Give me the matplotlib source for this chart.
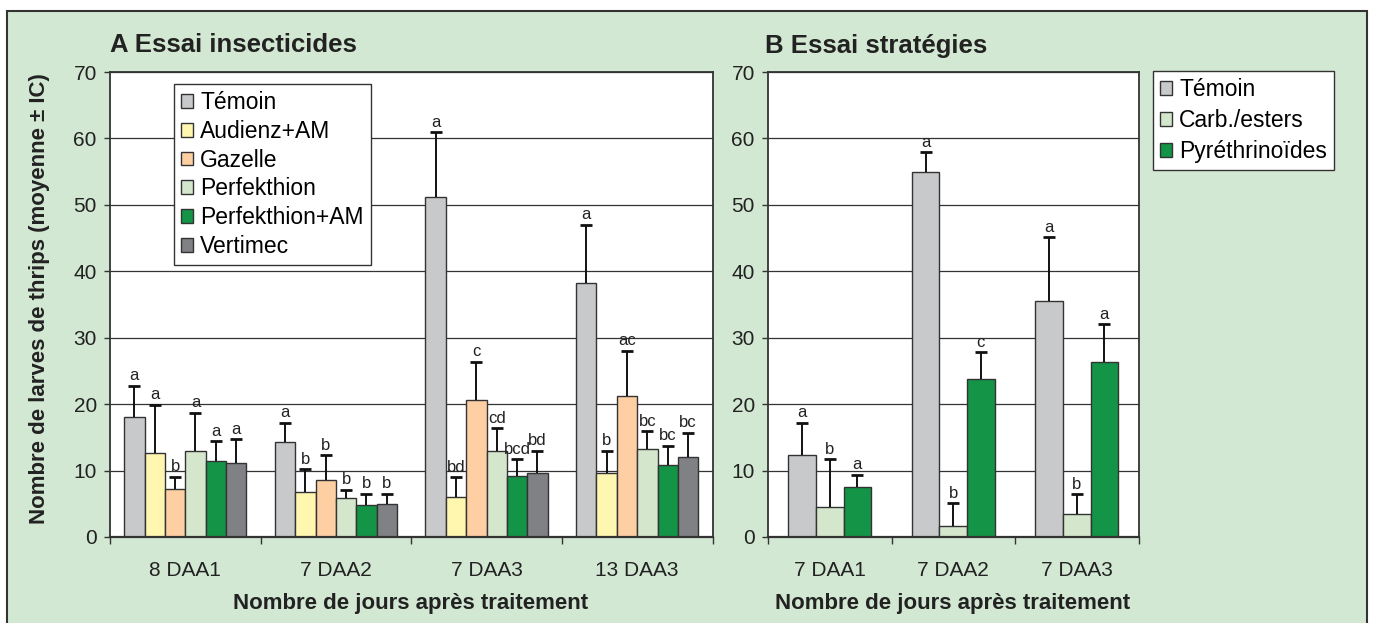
import numpy as np
import matplotlib.pyplot as plt
from matplotlib.patches import Patch, Rectangle

plt.rcParams['font.family'] = ['Liberation Sans', 'DejaVu Sans']

# A - essai insecticides
dates_a = ['8 DAA1', '7 DAA2', '7 DAA3', '13 DAA3']
produits_a = ['Témoin', 'Audienz+AM', 'Gazelle', 'Perfekthion', 'Perfekthion+AM', 'Vertimec']
moy_a = [[18.1, 14.3, 51.2, 38.3],
         [12.6, 6.7, 6.0, 9.7],
         [7.2, 8.6, 20.6, 21.3],
         [13.0, 5.9, 13.0, 13.2],
         [11.5, 4.8, 9.2, 10.9],
         [11.1, 5.0, 9.6, 12.1]]
# borne haute de l'IC
haut_a = [[22.8, 17.2, 60.9, 47.0],
          [19.9, 10.2, 9.0, 13.0],
          [9.1, 12.3, 26.4, 28.0],
          [18.7, 7.1, 16.4, 15.9],
          [14.4, 6.5, 11.7, 13.7],
          [14.7, 6.5, 13.0, 15.7]]
lettres_a = [['a', 'a', 'a', 'a'],
             ['a', 'b', 'bd', 'b'],
             ['b', 'b', 'c', 'ac'],
             ['a', 'b', 'cd', 'bc'],
             ['a', 'b', 'bcd', 'bc'],
             ['a', 'b', 'bd', 'bc']]
couleurs_a = ['#c8c9cb', '#fff6b0', '#fdcfa3', '#d4e7cd', '#139447', '#808185']

# B - essai strategies
dates_b = ['7 DAA1', '7 DAA2', '7 DAA3']
produits_b = ['Témoin', 'Carb./esters', 'Pyréthrinoïdes']
moy_b = [[12.3, 54.9, 35.6],
         [4.5, 1.7, 3.4],
         [7.5, 23.8, 26.3]]
haut_b = [[17.2, 57.9, 45.1],
          [11.7, 5.1, 6.4],
          [9.4, 27.8, 32.0]]
lettres_b = [['a', 'a', 'a'],
             ['b', 'b', 'b'],
             ['a', 'c', 'a']]
couleurs_b = ['#c8c9cb', '#d4e7cd', '#139447']

W, H = 1373, 623
fig = plt.figure(figsize=(W / 100, H / 100), dpi=100)
fig.patch.set_facecolor('white')
fig.patches.append(Rectangle((7 / W, -0.02), 1360 / W, 1 - 11 / H + 0.02,
                             transform=fig.transFigure, facecolor='#d3e8d3',
                             edgecolor='#333333', lw=1.5, zorder=-10))

dark = '#333333'


def panel(ax, dates, produits, moy, haut, lettres, couleurs, largeur):
    n = len(produits)
    x = np.arange(len(dates))
    for i in range(n):
        pos = x + (i - (n - 1) / 2) * largeur
        m = np.array(moy[i])
        ci = np.array(haut[i]) - m
        ax.bar(pos, m, largeur, color=couleurs[i], edgecolor=dark, lw=1, zorder=2)
        eb = ax.errorbar(pos, m, yerr=[np.zeros_like(ci), ci], fmt='none',
                         ecolor='#111111', elinewidth=1.4, capsize=4.5, capthick=2, zorder=3)
        eb[1][0].set_visible(False)
        for xx, hh, lt in zip(pos, haut[i], lettres[i]):
            ax.annotate(lt, (xx, hh), xytext=(0, 4), textcoords='offset points',
                        ha='center', va='baseline', fontsize=12, color='#222222')
    ax.set_xlim(-0.5, len(dates) - 0.5)
    ax.set_ylim(0, 70)
    ax.set_yticks(range(0, 71, 10))
    ax.set_xticks(x)
    ax.set_xticklabels(dates)
    ax.set_xticks(np.arange(len(dates) + 1) - 0.5, minor=True)
    ax.tick_params(axis='x', which='major', length=0, pad=17, labelsize=15, colors='#222222')
    ax.tick_params(axis='x', which='minor', length=5, width=1, color=dark)
    ax.tick_params(axis='y', length=4.5, width=1, pad=5, labelsize=15, color=dark, labelcolor='#222222')
    ax.yaxis.grid(True, color=dark, lw=0.9)
    ax.set_axisbelow(True)
    for s in ax.spines.values():
        s.set_color(dark)
        s.set_linewidth(1.3)
    ax.spines['bottom'].set_linewidth(1.6)
    ax.set_facecolor('white')


ax_a = fig.add_axes([110 / W, 86 / H, 602.5 / W, 465 / H])
panel(ax_a, dates_a, produits_a, moy_a, haut_a, lettres_a, couleurs_a, 1 / 7.4)
ax_b = fig.add_axes([768 / W, 86 / H, 370.5 / W, 465 / H])
panel(ax_b, dates_b, produits_b, moy_b, haut_b, lettres_b, couleurs_b, 0.223)

leg_kw = dict(loc='upper left', borderaxespad=0, fontsize=16.5, fancybox=False,
              edgecolor=dark, handlelength=0.55, handleheight=0.55, handletextpad=0.3,
              borderpad=0.3, framealpha=1)
h_a = [Patch(facecolor=c, edgecolor=dark, lw=1) for c in couleurs_a]
lg = ax_a.legend(h_a, produits_a, bbox_to_anchor=(0.106, 0.9735), labelspacing=0.25, **leg_kw)
lg.get_frame().set_linewidth(1)
h_b = [Patch(facecolor=c, edgecolor=dark, lw=1) for c in couleurs_b]
lg = ax_b.legend(h_b, produits_b, bbox_to_anchor=(1.039, 1.002), labelspacing=0.35, **leg_kw)
lg.get_frame().set_linewidth(1)

fig.text(110 / W, 1 - 52.5 / H, 'A Essai insecticides', fontsize=18.5, fontweight='bold',
         va='baseline', ha='left', color='#222222')
fig.text(765 / W, 1 - 52.5 / H, 'B Essai stratégies', fontsize=18.5, fontweight='bold',
         va='baseline', ha='left', color='#222222')
fig.text(40 / W, 1 - 298.5 / H, 'Nombre de larves de thrips (moyenne ± IC)', fontsize=16,
         fontweight='bold', rotation=90, ha='center', va='center', color='#222222')
fig.text(411 / W, 1 - 604 / H, 'Nombre de jours après traitement', fontsize=16,
         fontweight='bold', ha='center', va='center', color='#222222')
fig.text(953 / W, 1 - 604 / H, 'Nombre de jours après traitement', fontsize=16,
         fontweight='bold', ha='center', va='center', color='#222222')

fig.savefig('out.png', dpi=100)
